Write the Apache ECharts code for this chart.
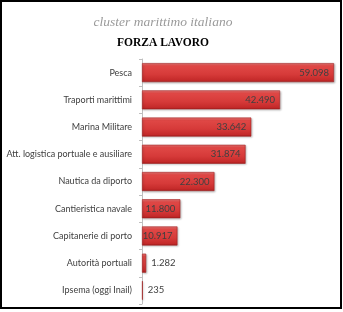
<!DOCTYPE html>
<html><head><meta charset="utf-8">
<script src="https://cdn.jsdelivr.net/npm/echarts@6/dist/echarts.min.js"></script>
<style>
html,body{margin:0;padding:0;background:#fff;}
#c{position:absolute;left:0;top:0;width:343px;height:312px;}
#b{position:absolute;left:0;top:0;width:338px;height:305px;border:2px solid #000;pointer-events:none;}
</style></head>
<body>
<div id="c"></div><div id="b"></div>
<script>
const categories = ["Pesca","Traporti marittimi","Marina Militare","Att. logistica portuale e ausiliare","Nautica da diporto","Cantieristica navale","Capitanerie di porto","Autorità portuali","Ipsema (oggi Inail)"];
const values = [59098,42490,33642,31874,22300,11800,10917,1282,235];
const titleText = "cluster marittimo italiano";
const subtitleText = "FORZA LAVORO";

function fmt(v){ return String(v).replace(/\B(?=(\d{3})+(?!\d))/g,'.'); }

const chart = echarts.init(document.getElementById('c'));
chart.setOption({
  animation:false,
  title:[
    {text:titleText,left:158,top:10,textAlign:'center',textStyle:{fontFamily:'Liberation Serif',fontStyle:'italic',fontWeight:'normal',fontSize:13.5,color:'#9a9a9a'}},
    {text:subtitleText,left:158,top:32,textAlign:'center',textStyle:{fontFamily:'Liberation Serif',fontWeight:'bold',fontSize:11.5,color:'#000'}}
  ],
  grid:{left:142,right:9,top:59,bottom:8,containLabel:false,outerBoundsMode:'none'},
  xAxis:{type:'value',min:0,max:'dataMax',show:false},
  yAxis:{type:'category',data:categories,inverse:true,
    axisLine:{show:true,lineStyle:{color:'#bfbfbf',width:1}},
    axisTick:{show:true,length:3,lineStyle:{color:'#bfbfbf'}},
    axisLabel:{fontFamily:'Lato',fontSize:9,color:'#404040',margin:10}},
  series:[{
    type:'bar',
    data:values.map(v=>({value:v,label:{position: v>5000?'insideRight':'right'}})),
    barWidth:19,
    itemStyle:{
      color:new echarts.graphic.LinearGradient(0,0,0,1,[
        {offset:0,color:'#f07a78'},{offset:0.15,color:'#e04846'},{offset:0.6,color:'#d63a39'},{offset:0.9,color:'#c42a2a'},{offset:1,color:'#a51d1d'}]),
      borderColor:'#a32222',borderWidth:0.6,
      shadowColor:'rgba(0,0,0,0.25)',shadowBlur:2,shadowOffsetX:1,shadowOffsetY:1
    },
    label:{show:true,formatter:p=>fmt(p.value),fontFamily:'Lato',fontSize:9.5,color:'#404040',distance:5}
  }]
});
</script>
</body></html>
